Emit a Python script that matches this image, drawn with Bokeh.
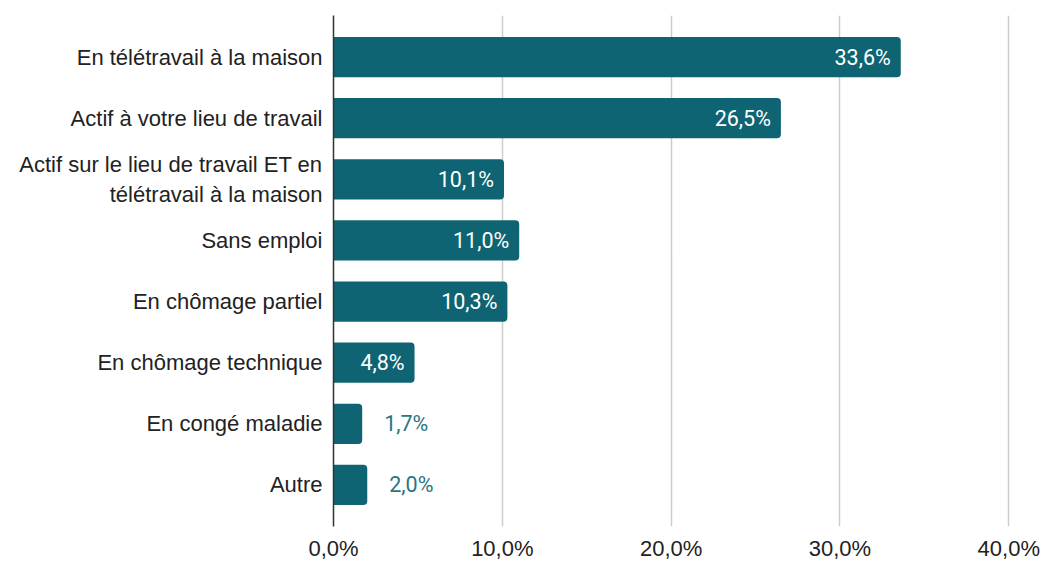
from bokeh.plotting import figure
from bokeh.models import ColumnDataSource, Range1d, FixedTicker
from bokeh.core.properties import value
from bokeh.embed import file_html
from bokeh.resources import INLINE

categories = [
    "En télétravail à la maison",
    "Actif à votre lieu de travail",
    "Actif sur le lieu de travail ET en\ntélétravail à la maison",
    "Sans emploi",
    "En chômage partiel",
    "En chômage technique",
    "En congé maladie",
    "Autre",
]
values = [33.6, 26.5, 10.1, 11.0, 10.3, 4.8, 1.7, 2.0]
x_ticks = [0, 10, 20, 30, 40]
x_tick_labels = ["0,0%", "10,0%", "20,0%", "30,0%", "40,0%"]

BAR = "#0e6472"
OUT = "#2a7683"

idx = list(range(len(categories)))
labels = [("%.1f" % v).replace(".", ",") + "%" for v in values]
inside = [v >= 4 for v in values]

src = ColumnDataSource(dict(y=idx, v=values))
src_in = ColumnDataSource(dict(
    y=[i for i, f in zip(idx, inside) if f],
    v=[v for v, f in zip(values, inside) if f],
    t=[t for t, f in zip(labels, inside) if f]))
src_out = ColumnDataSource(dict(
    y=[i for i, f in zip(idx, inside) if not f],
    v=[v for v, f in zip(values, inside) if not f],
    t=[t for t, f in zip(labels, inside) if not f]))

p = figure(width=1040, height=563, output_backend="svg", toolbar_location=None,
           x_range=Range1d(0, 40.1), y_range=Range1d(start=7.68, end=-0.68),
           min_border_left=333, min_border_right=30, min_border_top=15, min_border_bottom=36)
p.outline_line_color = None
p.background_fill_color = "white"
p.border_fill_color = "white"

p.hbar(y="y", right="v", left=0, height=0.66, source=src, fill_color=BAR,
       line_color=None, border_radius=(0, 4, 4, 0))

p.text(x="v", y="y", text="t", source=src_in, x_offset=-10, text_align="right",
       text_baseline="middle", text_color="white", text_font=value("Roboto"),
       text_font_size="21.5px")
p.text(x="v", y="y", text="t", source=src_out, x_offset=22, text_align="left",
       text_baseline="middle", text_color=OUT, text_font=value("Roboto"),
       text_font_size="21.5px")

# x axis
p.xaxis.ticker = FixedTicker(ticks=x_ticks)
p.xaxis.major_label_overrides = {t: l for t, l in zip(x_ticks, x_tick_labels)}
p.xaxis.axis_line_color = None
p.xaxis.major_tick_line_color = None
p.xaxis.minor_tick_line_color = None
p.xaxis.major_tick_out = 0
p.xaxis.major_tick_in = 0
p.xaxis.minor_tick_out = 0
p.xaxis.minor_tick_in = 0
p.xaxis.major_label_standoff = 9
p.xaxis.major_label_text_font = "Liberation Sans"
p.xaxis.major_label_text_font_size = "22px"
p.xaxis.major_label_text_color = "#222222"

# y axis
p.yaxis.ticker = FixedTicker(ticks=idx)
p.yaxis.major_label_overrides = {i: c for i, c in zip(idx, categories)}
p.yaxis.axis_line_color = "#333333"
p.yaxis.axis_line_width = 1.5
p.yaxis.major_tick_line_color = None
p.yaxis.minor_tick_line_color = None
p.yaxis.major_tick_out = 0
p.yaxis.major_tick_in = 0
p.yaxis.minor_tick_out = 0
p.yaxis.minor_tick_in = 0
p.yaxis.major_label_standoff = 11
p.yaxis.major_label_text_font = "Liberation Sans"
p.yaxis.major_label_text_font_size = "22px"
p.yaxis.major_label_text_color = "#222222"

p.xgrid.ticker = FixedTicker(ticks=[10, 20, 30, 40])
p.xgrid.grid_line_color = "#cccccc"
p.xgrid.grid_line_width = 1.5
p.ygrid.grid_line_color = None

open("out.html", "w").write(file_html(p, INLINE))
